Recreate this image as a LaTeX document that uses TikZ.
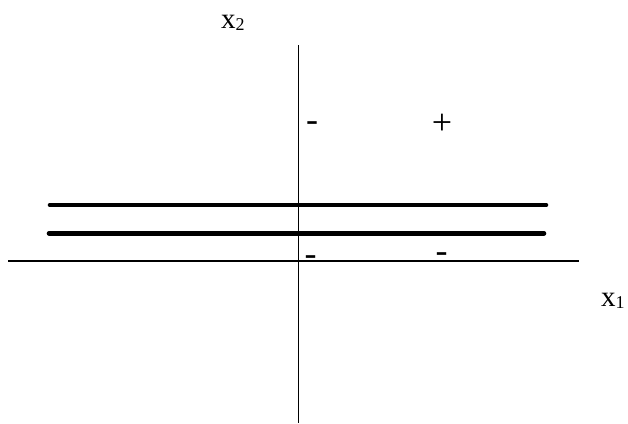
\documentclass[tikz,border=0pt]{standalone}
\usepackage{fontspec}
\setmainfont{Liberation Serif}
\tikzset{
  axis/.style={line width=1.3pt, draw=black},
  boundary/.style={line width=4.6pt, line cap=round, draw=black},
  lbl/.style={inner sep=0pt, outer sep=0pt, anchor=base west, font=\fontsize{29}{31}\selectfont},
  sgn/.style={inner sep=0pt, outer sep=0pt, anchor=base west, font=\fontsize{36}{38}\selectfont}
}
\newcommand{\mysub}[1]{\raisebox{-2pt}{\fontsize{18}{18}\selectfont #1}}
\begin{document}
\begin{tikzpicture}[x=1pt,y=-1pt]
\useasboundingbox (0,0) rectangle (628,423);
% axes
\coordinate (hL) at (8,261);
\coordinate (hR) at (579,261);
\coordinate (vT) at (298.5,45);
\coordinate (vB) at (298.5,423);
\draw[axis] (hL) -- (hR);
\draw[axis] (vT) -- (vB);
% thick boundary lines
\coordinate (a1) at (50,205);
\coordinate (a2) at (546,205);
\coordinate (b1) at (49,233.3);
\coordinate (b2) at (544,233.3);
\draw[boundary] (a1) -- (a2);
\draw[boundary] (b1) -- (b2);
% axis labels
\node[lbl] (x2) at (221,28.5) {x\mysub{2}};
\node[lbl] (x1) at (601,306) {x\mysub{1}};
% signs
\node[sgn] (s1) at (306.2,131.8) {-};
\node[sgn] (s2) at (431.8,134.5) {+};
\node[sgn] (s3) at (304.7,265.5) {-};
\node[sgn] (s4) at (435.7,262.5) {-};
\end{tikzpicture}
\end{document}
